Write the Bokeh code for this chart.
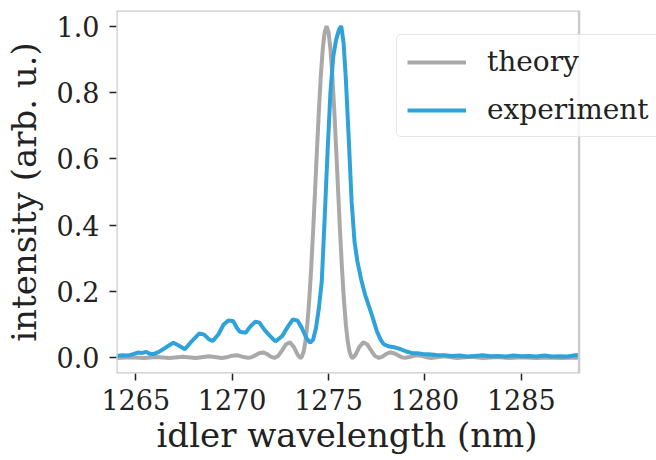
from bokeh.plotting import figure
from bokeh.models import FixedTicker, PrintfTickFormatter, Range1d, Legend, LegendItem, BoxAnnotation, Title
from bokeh.embed import file_html
from bokeh.resources import INLINE

# ---- data ----
theory_x = [1264.00, 1264.73, 1265.41, 1266.08, 1266.76, 1267.44, 1268.12, 1268.80, 1269.48,
            1269.70, 1270.00, 1270.30, 1270.60, 1270.83, 1271.00, 1271.20, 1271.40, 1271.60,
            1271.80, 1272.00, 1272.19, 1272.40, 1272.60, 1272.80, 1273.00, 1273.20, 1273.40,
            1273.54, 1273.60, 1273.70, 1273.80, 1273.90, 1274.00, 1274.10, 1274.20, 1274.30,
            1274.40, 1274.50, 1274.60, 1274.70, 1274.80, 1274.90, 1275.00, 1275.10, 1275.20,
            1275.30, 1275.40, 1275.50, 1275.60, 1275.70, 1275.80, 1275.90, 1276.00, 1276.10,
            1276.20, 1276.26, 1276.40, 1276.60, 1276.80, 1277.00, 1277.20, 1277.40, 1277.61,
            1277.80, 1278.00, 1278.20, 1278.40, 1278.60, 1278.80, 1278.97, 1279.20, 1279.50,
            1279.80, 1280.10, 1280.32, 1281.00, 1281.68, 1282.36, 1283.04, 1283.72, 1284.39,
            1285.07, 1285.75, 1286.43, 1287.11, 1287.79, 1288.00]
theory_y = [0.0000, 0.0018, 0.0000, 0.0024, 0.0000, 0.0033, 0.0000, 0.0050, 0.0000,
            0.0017, 0.0068, 0.0078, 0.0026, 0.0000, 0.0018, 0.0077, 0.0143, 0.0164,
            0.0119, 0.0039, 0.0000, 0.0066, 0.0235, 0.0413, 0.0468, 0.0329, 0.0089,
            0.0000, 0.0019, 0.0162, 0.0482, 0.1006, 0.1745, 0.2686, 0.3794, 0.5009,
            0.6257, 0.7446, 0.8490, 0.9305, 0.9822, 1.0000, 0.9822, 0.9305, 0.8490,
            0.7446, 0.6257, 0.5009, 0.3794, 0.2686, 0.1745, 0.1006, 0.0482, 0.0162,
            0.0019, 0.0000, 0.0089, 0.0329, 0.0468, 0.0413, 0.0235, 0.0066, 0.0000,
            0.0039, 0.0119, 0.0164, 0.0143, 0.0077, 0.0018, 0.0000, 0.0026, 0.0078,
            0.0068, 0.0017, 0.0000, 0.0050, 0.0000, 0.0033, 0.0000, 0.0024, 0.0000,
            0.0018, 0.0000, 0.0014, 0.0000, 0.0011, 0.0005]

exp_x = [1264.0, 1264.3, 1264.6, 1264.9, 1265.1, 1265.35, 1265.55, 1265.75, 1265.95, 1266.2,
         1266.6, 1266.95, 1267.2, 1267.55, 1267.9, 1268.3, 1268.55, 1268.8, 1269.0, 1269.3,
         1269.55, 1269.8, 1270.05, 1270.25, 1270.4, 1270.7, 1270.95, 1271.2, 1271.4, 1271.7,
         1271.9, 1272.1, 1272.25, 1272.6, 1272.9, 1273.15, 1273.4, 1273.6, 1273.85, 1274.05,
         1274.2, 1274.35, 1274.5, 1274.65, 1274.8, 1274.95, 1275.1, 1275.25, 1275.4, 1275.55,
         1275.66, 1275.78, 1275.9, 1276.05, 1276.2, 1276.35, 1276.5, 1276.7, 1276.9, 1277.1,
         1277.3, 1277.5, 1277.7, 1277.85, 1278.1, 1278.4, 1278.7, 1279.0, 1279.3, 1279.6,
         1279.9, 1280.2, 1280.6, 1281.0, 1281.4, 1281.8, 1282.2, 1282.6, 1283.0, 1283.4,
         1283.8, 1284.2, 1284.6, 1285.0, 1285.4, 1285.8, 1286.2, 1286.6, 1287.0, 1287.4,
         1287.8, 1288.0]
exp_y = [0.006, 0.008, 0.007, 0.012, 0.016, 0.015, 0.018, 0.012, 0.012, 0.018,
         0.033, 0.046, 0.038, 0.026, 0.050, 0.074, 0.070, 0.056, 0.051, 0.072,
         0.100, 0.113, 0.111, 0.090, 0.079, 0.076, 0.095, 0.109, 0.107, 0.083,
         0.070, 0.058, 0.050, 0.066, 0.095, 0.116, 0.112, 0.092, 0.060, 0.046,
         0.055, 0.090, 0.150, 0.230, 0.420, 0.620, 0.800, 0.910, 0.960, 0.990,
         1.000, 0.950, 0.840, 0.660, 0.470, 0.350, 0.290, 0.235, 0.190, 0.155,
         0.120, 0.082, 0.055, 0.042, 0.035, 0.032, 0.027, 0.020, 0.015, 0.014,
         0.012, 0.011, 0.009, 0.008, 0.006, 0.007, 0.004, 0.006, 0.008, 0.005,
         0.006, 0.004, 0.007, 0.005, 0.006, 0.004, 0.007, 0.004, 0.005, 0.004,
         0.008, 0.009]

x_ticks = [1265, 1270, 1275, 1280, 1285]
y_ticks = [0.0, 0.2, 0.4, 0.6, 0.8, 1.0]
x_lim = (1264.0, 1288.0)
y_lim = (-0.047, 1.047)
labels = ["theory", "experiment"]
x_label = "idler wavelength (nm)"
y_label = "intensity (arb. u.)"
colors = ["#a9a9a9", "#30a2da"]

FONT = "DejaVu Serif"

# the frame runs to the window's right edge so the legend can overhang the axes box;
# the visible axes box (x_lim) is drawn with a BoxAnnotation
px_per_nm = 466 / (x_lim[1] - x_lim[0])
x_end = x_lim[0] + 544 / px_per_nm

p = figure(width=656, height=460, output_backend="svg", toolbar_location=None,
           x_range=Range1d(x_lim[0], x_end), y_range=Range1d(*y_lim),
           min_border_left=112, min_border_right=0, min_border_top=10, min_border_bottom=87)

r1 = p.line(theory_x, theory_y, line_color=colors[0], line_width=4)
r2 = p.line(exp_x, exp_y, line_color=colors[1], line_width=4)

p.grid.visible = False
p.outline_line_color = None

for ax in (p.xaxis[0], p.yaxis[0]):
    ax.axis_line_color = None
    ax.major_tick_in = 0
    ax.major_tick_out = 7
    ax.major_tick_line_width = 1.5
    ax.major_tick_line_color = "#222222"
    ax.minor_tick_line_color = None
    ax.major_label_text_font = FONT
    ax.major_label_text_font_size = "27px"
    ax.major_label_text_color = "#222222"
    ax.axis_label_text_font = FONT
    ax.axis_label_text_font_size = "34px"
    ax.axis_label_text_font_style = "normal"
    ax.axis_label_text_color = "#222222"
    ax.major_label_standoff = 10

p.xaxis[0].ticker = FixedTicker(ticks=x_ticks)
p.yaxis[0].ticker = FixedTicker(ticks=y_ticks)
p.yaxis[0].formatter = PrintfTickFormatter(format="%.1f")
p.xaxis[0].major_label_standoff = 8
p.yaxis[0].axis_label = y_label
p.yaxis[0].axis_label_standoff = 10

# x-axis label centred under the visible axes box (not the extended frame)
xt = Title(text=x_label, align="left", offset=40, standoff=0,
           text_font=FONT, text_font_size="34px", text_font_style="normal",
           text_color="#222222")
p.add_layout(xt, "below")

legend = Legend(items=[LegendItem(label=labels[0], renderers=[r1]),
                       LegendItem(label=labels[1], renderers=[r2])],
                location=(280, 236))
legend.label_text_font = FONT
legend.label_text_font_size = "28px"
legend.label_text_color = "#222222"
legend.glyph_width = 59
legend.glyph_height = 28
legend.label_standoff = 21
legend.label_height = 28
legend.spacing = 15
legend.padding = 10
legend.margin = 0
legend.border_line_color = "#cccccc"
legend.border_line_width = 1.5
legend.border_radius = 5
legend.background_fill_alpha = 0.8
p.add_layout(legend, "center")

box = BoxAnnotation(left=x_lim[0], right=x_lim[1], bottom=y_lim[0], top=y_lim[1],
                    fill_color=None, fill_alpha=0, line_color="#cccccc",
                    line_alpha=1.0, line_width=2.5)
p.add_layout(box)

open("out.html", "w").write(file_html(p, INLINE))
